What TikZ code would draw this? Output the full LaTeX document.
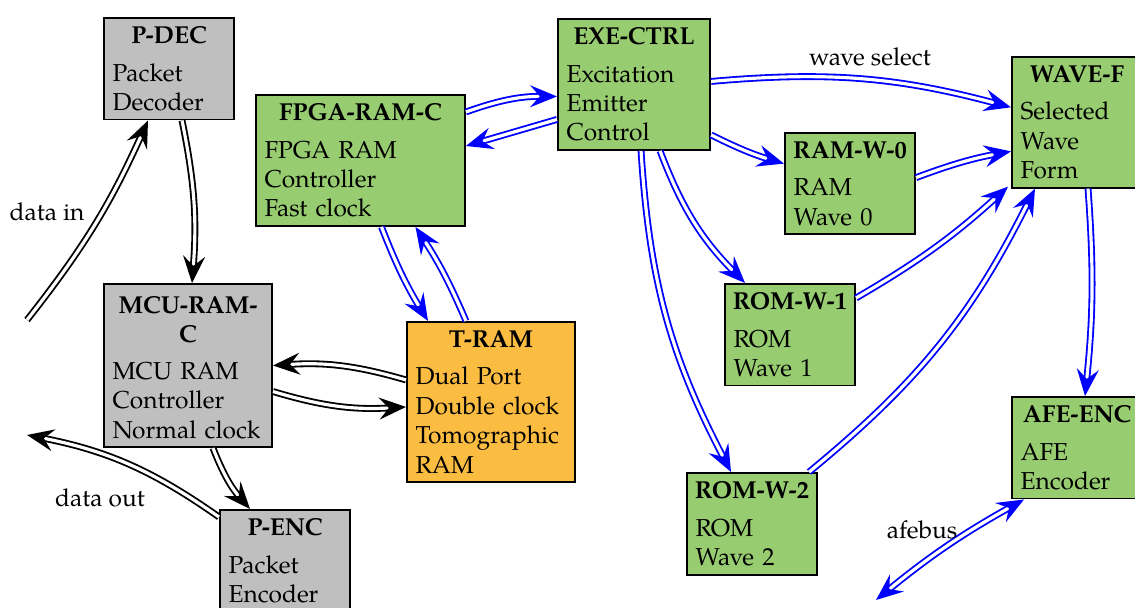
\documentclass[tikz,border=0pt]{standalone}
\usepackage{fontspec}
\setmainfont{TeX Gyre Pagella}
\usetikzlibrary{arrows.meta, calc}
\definecolor{modgray}{HTML}{BFBFBF}
\definecolor{modgreen}{HTML}{98CC70}
\definecolor{modorange}{HTML}{FBBC42}
\newcommand{\modtext}[2]{\makebox[\linewidth][c]{\textbf{#1}}\par\vspace{3.3pt}\raggedright #2}
\begin{document}
\begin{tikzpicture}[x=0.4082pt, y=0.4082pt,
	mod/.style={draw=black, line width=0.8pt, anchor=north west, inner sep=3.5pt, text width=#1},
	link/.style={double, double distance=1.3pt, line width=0.75pt, -{Stealth[length=11pt, width=9pt, inset=4pt]}},
	lbl/.style={inner sep=0pt}]
	\useasboundingbox (0, 0) rectangle (1135, 608);
	\clip (0, 0) rectangle (1135, 608);
	
	% modules
	\node [mod=46.1pt, fill=modgray] (pdec) at (103, 591) {\modtext{P-DEC}{Packet\\Decoder}};
	\node [mod=61.6pt, fill=modgray] (mcu) at (103, 325) {\modtext{\begin{tabular}{@{}c@{}}MCU-RAM-\\C\end{tabular}}{MCU RAM\\Controller\\Normal clock}};
	\node [mod=46.1pt, fill=modgray] (penc) at (219, 99) {\modtext{P-ENC}{Packet\\Encoder}};
	\node [mod=78.3pt, fill=modgreen] (fpga) at (255, 514) {\modtext{FPGA-RAM-C}{FPGA RAM\\Controller\\Fast clock}};
	\node [mod=61.6pt, fill=modorange] (tram) at (406, 287) {\modtext{T-RAM}{Dual Port\\Double clock\\Tomographic\\RAM}};
	\node [mod=55.1pt, fill=modgreen] (exe) at (557, 590) {\modtext{EXE-CTRL}{Excitation\\Emitter\\Control}};
	\node [mod=46.1pt, fill=modgreen] (ramw0) at (784, 476) {\modtext{RAM-W-0}{RAM\\Wave 0}};
	\node [mod=46.1pt, fill=modgreen] (romw1) at (724, 325) {\modtext{ROM-W-1}{ROM\\Wave 1}};
	\node [mod=46.1pt, fill=modgreen] (romw2) at (686, 136) {\modtext{ROM-W-2}{ROM\\Wave 2}};
	\node [mod=46.1pt, fill=modgreen] (wavef) at (1011, 552) {\modtext{WAVE-F}{Selected\\Wave\\Form}};
	\node [mod=46.1pt, fill=modgreen] (afe) at (1011, 212) {\modtext{AFE-ENC}{AFE\\Encoder}};
	
	% free ends
	\coordinate (inpt) at (27, 288);
	\coordinate (outpt) at (27, 173);
	\coordinate (buspt) at (876, 8);
	
	% lines (black)
	\draw [link, black] (inpt) to [bend right=7] ($(pdec.south)+(-21, 0)$);
	\draw [link, black] ($(pdec.south)+(13, 0)$) to [bend left=8] ($(mcu.north)+(4, 0)$);
	\draw [link, black] ($(tram.west)+(0, 22)$) to [bend right=10] (mcu.east);
	\draw [link, black] ($(mcu.east)+(0, -26)$) to [bend right=10] ($(tram.west)+(0, -5)$);
	\draw [link, black] ($(mcu.south)+(25, 0)$) to [bend right=10] ($(penc.north)+(-35, 0)$);
	\draw [link, black] ($(penc.north west)+(0, -8)$) to [bend right=12] (outpt);
	
	% lines (blue)
	\draw [link, blue] ($(fpga.north east)+(0, -18)$) to [bend left=10] ($(exe.west)+(0, -12)$);
	\draw [link, blue] ($(exe.west)+(0, -35)$) -- ($(fpga.north east)+(0, -52)$);
	\draw [link, blue] ($(fpga.south)+(21, 0)$) to [bend right=5] ($(tram.north)+(-63, 0)$);
	\draw [link, blue] ($(tram.north)+(-25, 0)$) to [bend right=5] ($(fpga.south)+(55, 0)$);
	\draw [link, blue] ($(exe.east)+(0, 3)$) to [bend left=10] ($(wavef.west)+(0, 15)$);
	\draw [link, blue] ($(exe.south east)+(0, 16)$) to [bend right=5] ($(ramw0.west)+(0, 20)$);
	\draw [link, blue] ($(ramw0.east)+(0, 6)$) to [bend left=5] ($(wavef.west)+(0, -29)$);
	\draw [link, blue] ($(exe.south)+(26, 0)$) to [bend right=12] ($(romw1.north)+(-45, 0)$);
	\draw [link, blue] ($(exe.south)+(7, 0)$) to [bend right=12] ($(romw2.north)+(-21, 0)$);
	\draw [link, blue] ($(romw1.north east)+(0, -15)$) to [bend right=6] ($(wavef.south west)+(-3, 2)$);
	\draw [link, blue] ($(romw2.north east)+(-9, 0)$) to [bend right=12] ($(wavef.south west)+(24, 0)$);
	\draw [link, blue] ($(wavef.south)+(11, 0)$) to [bend left=5] ($(afe.north)+(8, 0)$);
	\draw [link, blue, {Stealth[length=11pt, width=9pt, inset=4pt]}-{Stealth[length=11pt, width=9pt, inset=4pt]}] ($(afe.south west)+(13, 0)$) to [bend right=5] (buspt);
	
	% labels
	\node [lbl] (datain) at (47, 396) {data in};
	\node [lbl] (dataout) at (100, 110) {data out};
	\node [lbl] (wavesel) at (870, 551) {wave select};
	\node [lbl] (afebus) at (922, 78) {afebus};
\end{tikzpicture}
\end{document}
